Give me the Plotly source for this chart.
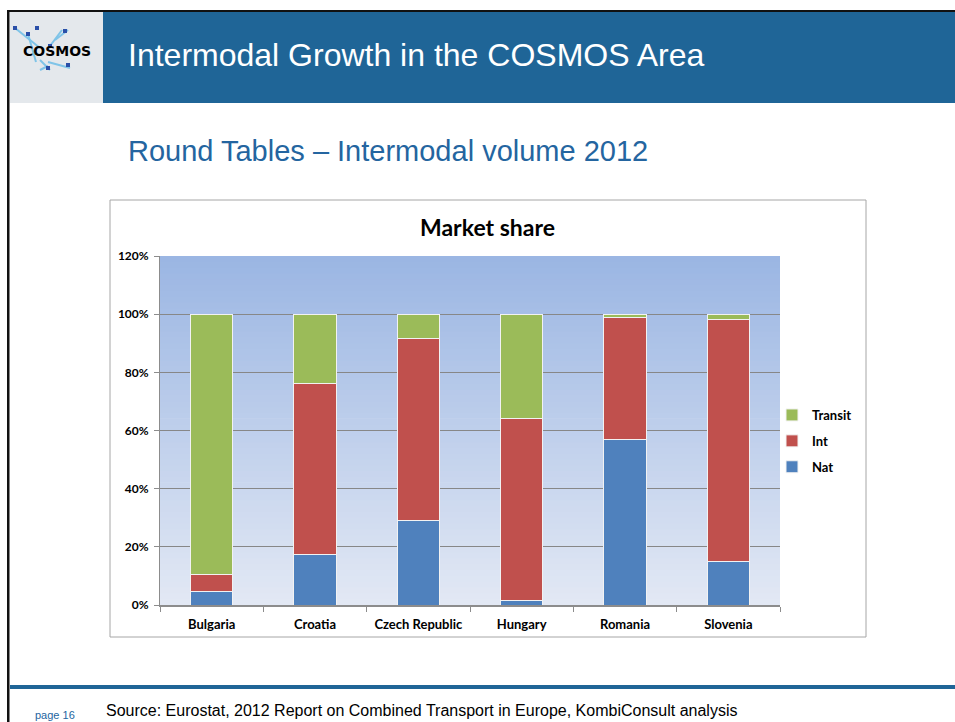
import plotly.graph_objects as go

countries = ["Bulgaria", "Croatia", "Czech Republic", "Hungary", "Romania", "Slovenia"]
nat = [0.045, 0.172, 0.289, 0.015, 0.570, 0.151]
intl = [0.061, 0.588, 0.629, 0.625, 0.420, 0.829]
transit = [0.894, 0.240, 0.082, 0.360, 0.010, 0.020]
y_ticks = [0, 0.2, 0.4, 0.6, 0.8, 1.0, 1.2]

W, H = 955, 722
def px(x):
    return x / W
def py(y):
    return 1 - y / H

fig = go.Figure()
series = [("Nat", nat, "#4F81BD", 3), ("Int", intl, "#C0504D", 2), ("Transit", transit, "#9BBB59", 1)]
for name, vals, col, rank in series:
    fig.add_trace(go.Bar(
        x=countries, y=vals, name=name, legendgroup=name, legendrank=rank,
        marker=dict(color=col, line=dict(color="#F2F2F2", width=1)),
    ))

shapes = []
# slide frame lines
shapes.append(dict(type="rect", xref="paper", yref="paper", x0=px(8), x1=px(955), y0=py(10), y1=py(12),
                   fillcolor="#111111", line=dict(width=0), layer="below"))
shapes.append(dict(type="rect", xref="paper", yref="paper", x0=px(7), x1=px(9.5), y0=py(722), y1=py(10),
                   fillcolor="#111111", line=dict(width=0), layer="below"))
# logo area
shapes.append(dict(type="rect", xref="paper", yref="paper", x0=px(10), x1=px(103), y0=py(103), y1=py(12),
                   fillcolor="#E4E8EC", line=dict(width=0), layer="below"))
# header bar
shapes.append(dict(type="rect", xref="paper", yref="paper", x0=px(103), x1=px(955), y0=py(103), y1=py(12),
                   fillcolor="#1F6597", line=dict(width=0), layer="below"))
# logo decorations
for (x0, y0, x1, y1) in [(15, 28, 40, 48), (28, 34, 36, 62), (50, 46, 62, 30), (55, 40, 68, 30),
                         (40, 60, 50, 70), (48, 62, 70, 68), (40, 70, 48, 66)]:
    shapes.append(dict(type="line", xref="paper", yref="paper", x0=px(x0), y0=py(y0), x1=px(x1), y1=py(y1),
                       line=dict(color="#7FC4E8", width=2), layer="below"))
for (x, y) in [(15, 28), (37, 28), (50, 46), (65, 31), (48, 68), (68, 65), (28, 34)]:
    shapes.append(dict(type="rect", xref="paper", yref="paper", x0=px(x - 2), x1=px(x + 2), y0=py(y + 2), y1=py(y - 2),
                       fillcolor="#2A4FA8", line=dict(width=0), layer="below"))
# chart box
shapes.append(dict(type="rect", xref="paper", yref="paper", x0=px(110), x1=px(866), y0=py(637), y1=py(200),
                   fillcolor="white", line=dict(color="#A6A6A6", width=1), layer="below"))
# footer line
shapes.append(dict(type="rect", xref="paper", yref="paper", x0=px(10), x1=px(955), y0=py(689), y1=py(685),
                   fillcolor="#1F6597", line=dict(width=0), layer="below"))
# plot area gradient
n = 60
top = (155, 182, 227)
bot = (226, 232, 244)
for i in range(n):
    t = i / (n - 1)
    c = tuple(int(round(bot[k] + (top[k] - bot[k]) * t)) for k in range(3))
    shapes.append(dict(type="rect", xref="x domain", yref="y domain", x0=0, x1=1,
                       y0=i / n, y1=min(1, (i + 1) / n + 0.002),
                       fillcolor="rgb(%d,%d,%d)" % c, line=dict(width=0), layer="below"))

annotations = [
    dict(text="Intermodal Growth in the COSMOS Area", x=px(126), y=py(55), xref="paper", yref="paper",
         xanchor="left", yanchor="middle", showarrow=False,
         font=dict(family="Liberation Sans", size=32, color="white")),
    dict(text="Round Tables – Intermodal volume 2012", x=px(126), y=py(151), xref="paper", yref="paper",
         xanchor="left", yanchor="middle", showarrow=False,
         font=dict(family="Liberation Sans", size=29, color="#2465A0")),
    dict(text="Market share", x=px(487), y=py(227), xref="paper", yref="paper",
         xanchor="center", yanchor="middle", showarrow=False,
         font=dict(family="Lato", size=23, color="black", weight="bold")),
    dict(text="COSMOS", x=px(57), y=py(51), xref="paper", yref="paper",
         xanchor="center", yanchor="middle", showarrow=False,
         font=dict(family="DejaVu Sans", size=14, color="black", weight="bold")),
    dict(text="page 16", x=px(33), y=py(715), xref="paper", yref="paper",
         xanchor="left", yanchor="middle", showarrow=False,
         font=dict(family="Liberation Sans", size=11, color="#2465A0")),
    dict(text="Source: Eurostat, 2012 Report on Combined Transport in Europe, KombiConsult analysis",
         x=px(104), y=py(710), xref="paper", yref="paper",
         xanchor="left", yanchor="middle", showarrow=False,
         font=dict(family="Liberation Sans", size=16, color="black")),
]

fig.update_layout(
    template="none",
    width=W, height=H,
    margin=dict(l=0, r=0, t=0, b=0, pad=0, autoexpand=False),
    paper_bgcolor="white",
    plot_bgcolor="rgba(0,0,0,0)",
    barmode="stack",
    bargap=0.59,
    shapes=shapes,
    annotations=annotations,
    showlegend=True,
    legend=dict(x=px(772), y=py(400), xanchor="left", yanchor="top", traceorder="grouped",
                tracegroupgap=6,
                font=dict(family="Lato", size=13, color="black", weight="bold"),
                bgcolor="rgba(0,0,0,0)", itemwidth=30),
    xaxis=dict(domain=[px(160), px(780)], showgrid=False, showline=True, linecolor="#8C8C8C", linewidth=2,
               ticks="outside", tickson="boundaries", ticklen=5, tickcolor="#8C8C8C", automargin=False,
               ticklabelstandoff=6,
               tickfont=dict(family="Lato", size=13, color="black", weight="bold")),
    yaxis=dict(domain=[py(605), py(256)], range=[0, 1.2], tickvals=y_ticks, tickformat=".0%",
               showgrid=True, gridcolor="#878787", gridwidth=1, showline=True, linecolor="#8C8C8C",
               linewidth=1, ticks="outside", ticklen=5, tickcolor="#8C8C8C", zeroline=False,
               automargin=False, ticklabelstandoff=3,
               tickfont=dict(family="Lato", size=12, color="black", weight="bold")),
)

fig.write_html("out.html")
